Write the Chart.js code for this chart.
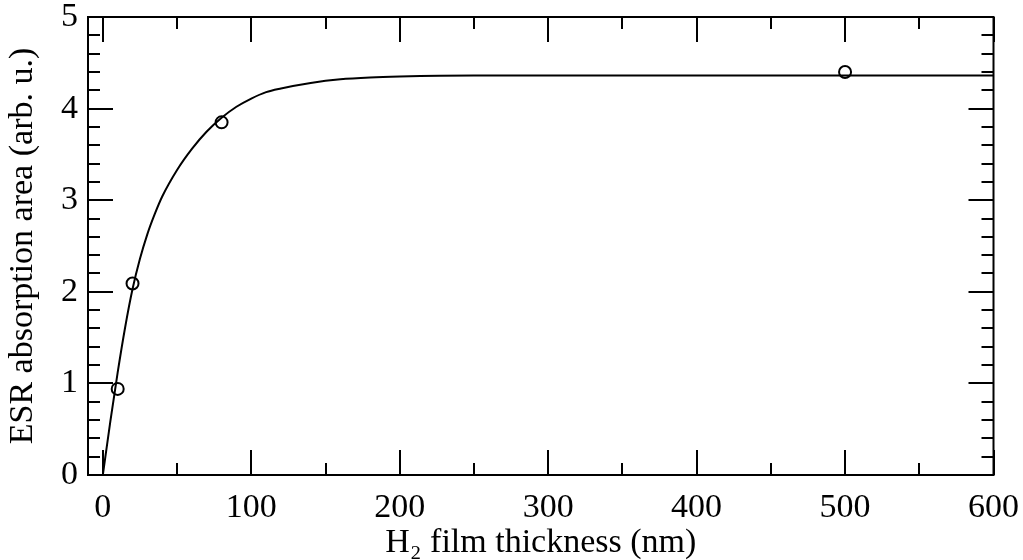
<!DOCTYPE html>
<html>
<head>
<meta charset="utf-8">
<script src="https://cdn.jsdelivr.net/npm/chart.js@4/dist/chart.umd.min.js"></script>
<style>
html,body{margin:0;padding:0;background:#fff;}
#wrap{width:1023px;height:560px;}
</style>
</head>
<body>
<div id="wrap"><canvas id="c" width="1023" height="560"></canvas></div>
<script>
// Measured data points (H2 film thickness nm, ESR absorption area)
const pointX = [10, 20, 80, 500];
const pointY = [0.94, 2.09, 3.85, 4.40];
// Fitted curve
const curveX = [0, 5, 10, 15, 20, 25, 30, 35, 40, 50, 60, 70, 80, 90, 100, 110, 120, 140, 160, 180, 200, 250, 300, 400, 500, 600];
const curveY = [0, 0.58, 1.12, 1.61, 2.03, 2.36, 2.63, 2.85, 3.04, 3.33, 3.56, 3.75, 3.90, 4.02, 4.11, 4.18, 4.22, 4.28, 4.32, 4.34, 4.35, 4.36, 4.36, 4.36, 4.36, 4.36];
// Tick values
const xTicks = [0, 100, 200, 300, 400, 500, 600];
const xMinorTicks = [50, 150, 250, 350, 450, 550];
const yTicks = [0, 1, 2, 3, 4, 5];
const yMinorTicks = [0.2, 0.4, 0.6, 0.8, 1.2, 1.4, 1.6, 1.8, 2.2, 2.4, 2.6, 2.8, 3.2, 3.4, 3.6, 3.8, 4.2, 4.4, 4.6, 4.8];
const xTitle = 'H\u2082 film thickness (nm)';
const yTitle = 'ESR absorption area (arb. u.)';

const FONT = '"Liberation Serif", "Times New Roman", serif';

const framePlugin = {
  id: 'frameTicks',
  afterDatasetsDraw(chart) {
    const ctx = chart.ctx;
    const a = chart.chartArea;
    const xs = chart.scales.x, ys = chart.scales.y;
    ctx.save();
    ctx.strokeStyle = '#000';
    ctx.lineWidth = 2;
    ctx.lineCap = 'butt';
    ctx.beginPath();
    const MAJ = 25, MIN = 12;
    const addX = (v, len) => {
      const p = Math.round(xs.getPixelForValue(v));
      ctx.moveTo(p, a.bottom); ctx.lineTo(p, a.bottom - len);
      ctx.moveTo(p, a.top); ctx.lineTo(p, a.top + len);
    };
    const addY = (v, len) => {
      const p = Math.round(ys.getPixelForValue(v));
      ctx.moveTo(a.left, p); ctx.lineTo(a.left + len, p);
      ctx.moveTo(a.right, p); ctx.lineTo(a.right - len, p);
    };
    xTicks.forEach(v => addX(v, MAJ));
    xMinorTicks.forEach(v => addX(v, MIN));
    yTicks.forEach(v => addY(v, MAJ));
    yMinorTicks.forEach(v => addY(v, MIN));
    ctx.stroke();
    ctx.strokeRect(a.left, a.top, a.right - a.left, a.bottom - a.top);
    ctx.restore();
  }
};

const curve = curveX.map((x, i) => ({x, y: curveY[i]}));
const pts = pointX.map((x, i) => ({x, y: pointY[i]}));

new Chart(document.getElementById('c'), {
  type: 'scatter',
  data: {
    datasets: [
      {
        data: curve,
        showLine: true,
        borderColor: '#000',
        borderWidth: 2,
        pointRadius: 0,
        pointHoverRadius: 0,
        cubicInterpolationMode: 'monotone',
        fill: false
      },
      {
        data: pts,
        showLine: false,
        pointStyle: 'circle',
        pointRadius: 6,
        pointHoverRadius: 6,
        pointBorderWidth: 2,
        pointBackgroundColor: 'rgba(0,0,0,0)',
        pointBorderColor: '#000'
      }
    ]
  },
  options: {
    responsive: false,
    animation: false,
    events: [],
    layout: {padding: {top: 17, right: 29.5, left: 0, bottom: 0}},
    plugins: {legend: {display: false}, tooltip: {enabled: false}},
    scales: {
      x: {
        type: 'linear',
        min: -10,
        max: 600,
        afterBuildTicks: s => { s.ticks = xTicks.map(v => ({value: v})); },
        afterFit: s => { s.height = 85; s.paddingLeft = 0; s.paddingRight = 0; },
        grid: {display: false, drawTicks: false},
        border: {display: false},
        ticks: {
          color: '#000',
          padding: 16,
          maxRotation: 0,
          autoSkip: false,
          font: {family: FONT, size: 34, lineHeight: 1},
          callback: v => String(v)
        },
        title: {
          display: true,
          text: xTitle,
          color: '#000',
          font: {family: FONT, size: 34, lineHeight: 1},
          padding: {top: 0, bottom: 0}
        }
      },
      y: {
        type: 'linear',
        min: 0,
        max: 5,
        afterBuildTicks: s => { s.ticks = yTicks.map(v => ({value: v})); },
        afterFit: s => { s.width = 88; s.paddingTop = 0; s.paddingBottom = 0; },
        grid: {display: false, drawTicks: false},
        border: {display: false},
        ticks: {
          color: '#000',
          padding: 10,
          autoSkip: false,
          font: {family: FONT, size: 34, lineHeight: 1},
          callback: v => String(v)
        },
        title: {
          display: true,
          text: yTitle,
          color: '#000',
          font: {family: FONT, size: 34, lineHeight: 1},
          padding: {top: 6.5, bottom: 0}
        }
      }
    }
  },
  plugins: [framePlugin]
});
</script>
</body>
</html>
